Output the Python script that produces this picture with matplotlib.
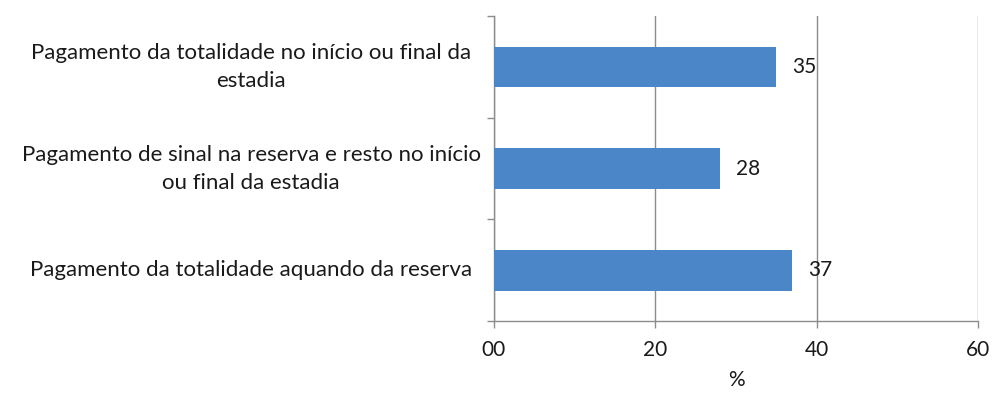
import matplotlib
matplotlib.use("Agg")
import matplotlib.pyplot as plt
from matplotlib.transforms import blended_transform_factory

categories = [
    "Pagamento da totalidade aquando da reserva",
    "Pagamento de sinal na reserva e resto no início\nou final da estadia",
    "Pagamento da totalidade no início ou final da\nestadia",
]
values = [37, 28, 35]
x_ticks = [0, 20, 40, 60]
x_tick_labels = ["00", "20", "40", "60"]

plt.rcParams["font.family"] = ["Lato", "DejaVu Sans"]
FS = 15
FS_CAT = 16
TXT = "#1a1a1a"
GRID = "#8c8c8c"

fig = plt.figure(figsize=(9.92, 3.94), dpi=100)
ax = fig.add_axes([494 / 992, 1 - 321 / 394, (978 - 494) / 992, (321 - 16) / 394])

bar_color = "#4a86c8"
ypos = list(range(len(categories)))
ax.barh(ypos, values, height=0.4, color=bar_color, zorder=3)

for y, v in zip(ypos, values):
    ax.text(v + 2.0, y, str(v), va="center", ha="left", fontsize=FS, color=TXT, zorder=4)

ax.set_xlim(0, 60)
ax.set_ylim(-0.5, 2.5)
ax.set_xticks(x_ticks)
ax.set_xticklabels(x_tick_labels, fontsize=FS, color=TXT)
ax.xaxis.grid(True, color=GRID, linewidth=1.0, zorder=0)

# category labels, centred in the left margin
ax.set_yticks([])
trans = blended_transform_factory(ax.transAxes, ax.transData)
for y, cat in zip(ypos, categories):
    ax.text(-0.502, y, cat, transform=trans, ha="center", va="center",
            multialignment="center", fontsize=FS_CAT, color=TXT, linespacing=1.5)

ax.set_yticks([-0.5, 0.5, 1.5, 2.5], minor=True)
ax.tick_params(axis="y", which="minor", length=5, color=GRID, width=1)
ax.tick_params(axis="x", length=5, color=GRID, width=1, pad=9)

for side in ["top", "right"]:
    ax.spines[side].set_visible(False)
for side in ["left", "bottom"]:
    ax.spines[side].set_color(GRID)
    ax.spines[side].set_linewidth(1)

ax.set_xlabel("%", fontsize=FS, color=TXT, labelpad=7)

fig.savefig("out.png", dpi=100)
